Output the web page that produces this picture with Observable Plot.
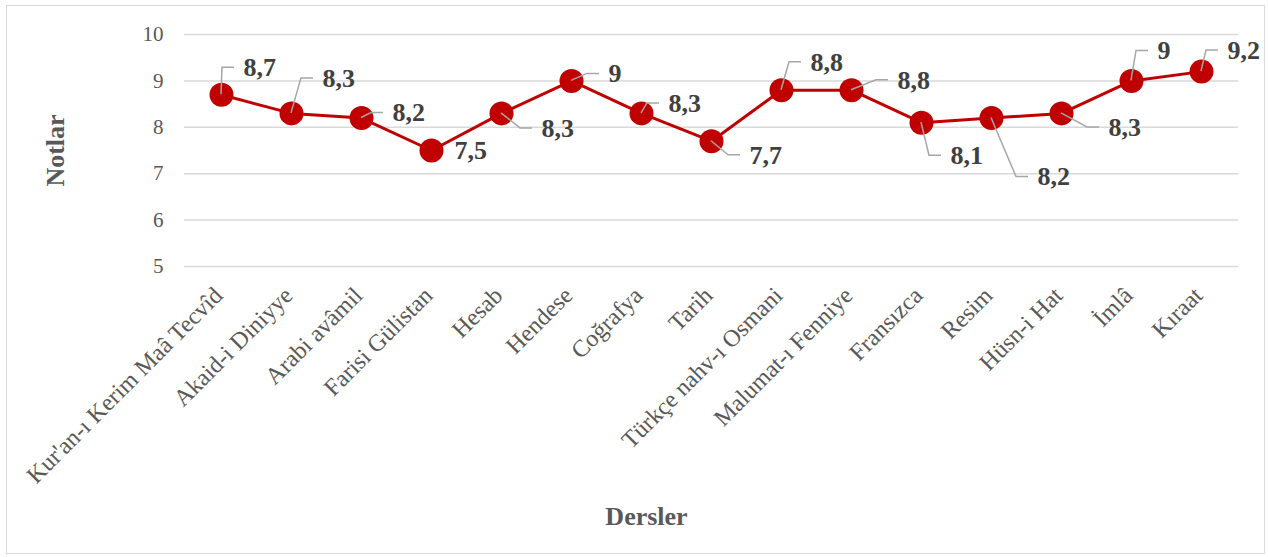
<!DOCTYPE html>
<html>
<head>
<meta charset="utf-8">
<script src="https://cdn.jsdelivr.net/npm/d3@7"></script>
<script src="https://cdn.jsdelivr.net/npm/@observablehq/plot@0.6"></script>
<style>
  html, body { margin: 0; padding: 0; background: #fff; }
  #wrap { position: relative; width: 1268px; height: 557px; }
  #border { position: absolute; left: 6px; top: 5px; width: 1257px; height: 547px; border: 1.5px solid #d9d9d9; pointer-events: none; }
</style>
</head>
<body>
<div id="wrap"><div id="border"></div></div>
<script>
const categories = ["Kur'an-ı Kerim Maâ Tecvîd", "Akaid-i Diniyye", "Arabi avâmil", "Farisi Gülistan", "Hesab", "Hendese", "Coğrafya", "Tarih", "Türkçe nahv-ı Osmani", "Malumat-ı Fenniye", "Fransızca", "Resim", "Hüsn-i Hat", "İmlâ", "Kıraat"];
const notes = [8.7, 8.3, 8.2, 7.5, 8.3, 9, 8.3, 7.7, 8.8, 8.8, 8.1, 8.2, 8.3, 9, 9.2];
const valueLabels = ["8,7", "8,3", "8,2", "7,5", "8,3", "9", "8,3", "7,7", "8,8", "8,8", "8,1", "8,2", "8,3", "9", "9,2"];
const yTicks = [5, 6, 7, 8, 9, 10];
const yTitle = "Notlar";
const xTitle = "Dersler";

// layout: pixel offsets of each data label (text start, vertical middle) from its point
const labelOffsets = [[22,-27],[31,-35],[31,-5],[23,0],[40,15],[37,-7],[27,-10],[38,14],[29,-28],[46,-10],[29,33],[46,59],[47,14],[26,-30],[26,-21]];
const showLeader = [1,1,1,0,1,1,1,1,1,1,1,1,1,1,1];

const data = categories.map((c, i) => ({cat: c, v: notes[i], lab: valueLabels[i]}));
const FONT = "'Liberation Serif', 'Times New Roman', serif";

const leaders = (index, scales) => {
  const g = d3.create("svg:g").attr("stroke", "#a6a6a6").attr("stroke-width", 1.5).attr("fill", "none");
  categories.forEach((c, i) => {
    if (!showLeader[i]) return;
    const px = scales.x(c), py = scales.y(notes[i]);
    const [dx, dy] = labelOffsets[i];
    g.append("path").attr("d", `M${px},${py}L${px + dx - 21},${py + dy}H${px + dx - 9}`);
  });
  return g.node();
};

const labelMarks = data.map((d, i) => Plot.text([d], {
  x: "cat", y: "v", text: "lab",
  dx: labelOffsets[i][0], dy: labelOffsets[i][1],
  textAnchor: "start", lineAnchor: "middle",
  fontSize: 26, fontWeight: "bold", fill: "#404040"
}));

const chart = Plot.plot({
  width: 1268,
  height: 557,
  marginLeft: 184,
  marginRight: 30,
  marginTop: 34,
  marginBottom: 291,
  style: {fontFamily: FONT, background: "transparent", overflow: "visible"},
  x: {type: "point", domain: categories, padding: 0.5, axis: null},
  y: {domain: [5, 10], axis: null},
  marks: [
    Plot.gridY({ticks: yTicks, stroke: "#d9d9d9", strokeOpacity: 1, strokeWidth: 1.5}),
    Plot.axisY({ticks: yTicks, tickFormat: d => String(d), tickSize: 0, tickPadding: 21, fontSize: 21, fill: "#595959", label: null}),
    Plot.line(data, {x: "cat", y: "v", stroke: "#c00000", strokeWidth: 3}),
    Plot.dot(data, {x: "cat", y: "v", r: 12, fill: "#c00000", stroke: "none"}),
    leaders,
    ...labelMarks,
    Plot.text(categories, {x: d => d, text: d => d, frameAnchor: "bottom", rotate: -45, textAnchor: "end", lineAnchor: "middle", dx: -3, dy: 25, fontSize: 24, fill: "#595959"}),
    Plot.text([yTitle], {text: d => d, frameAnchor: "left", dx: -129, rotate: -90, textAnchor: "middle", fontSize: 26, fontWeight: "bold", fill: "#595959"}),
    Plot.text([xTitle], {text: d => d, frameAnchor: "bottom", dx: -65, dy: 258, fontSize: 26, fontWeight: "bold", fill: "#595959"})
  ]
});
document.getElementById("wrap").prepend(chart);
</script>
</body>
</html>
